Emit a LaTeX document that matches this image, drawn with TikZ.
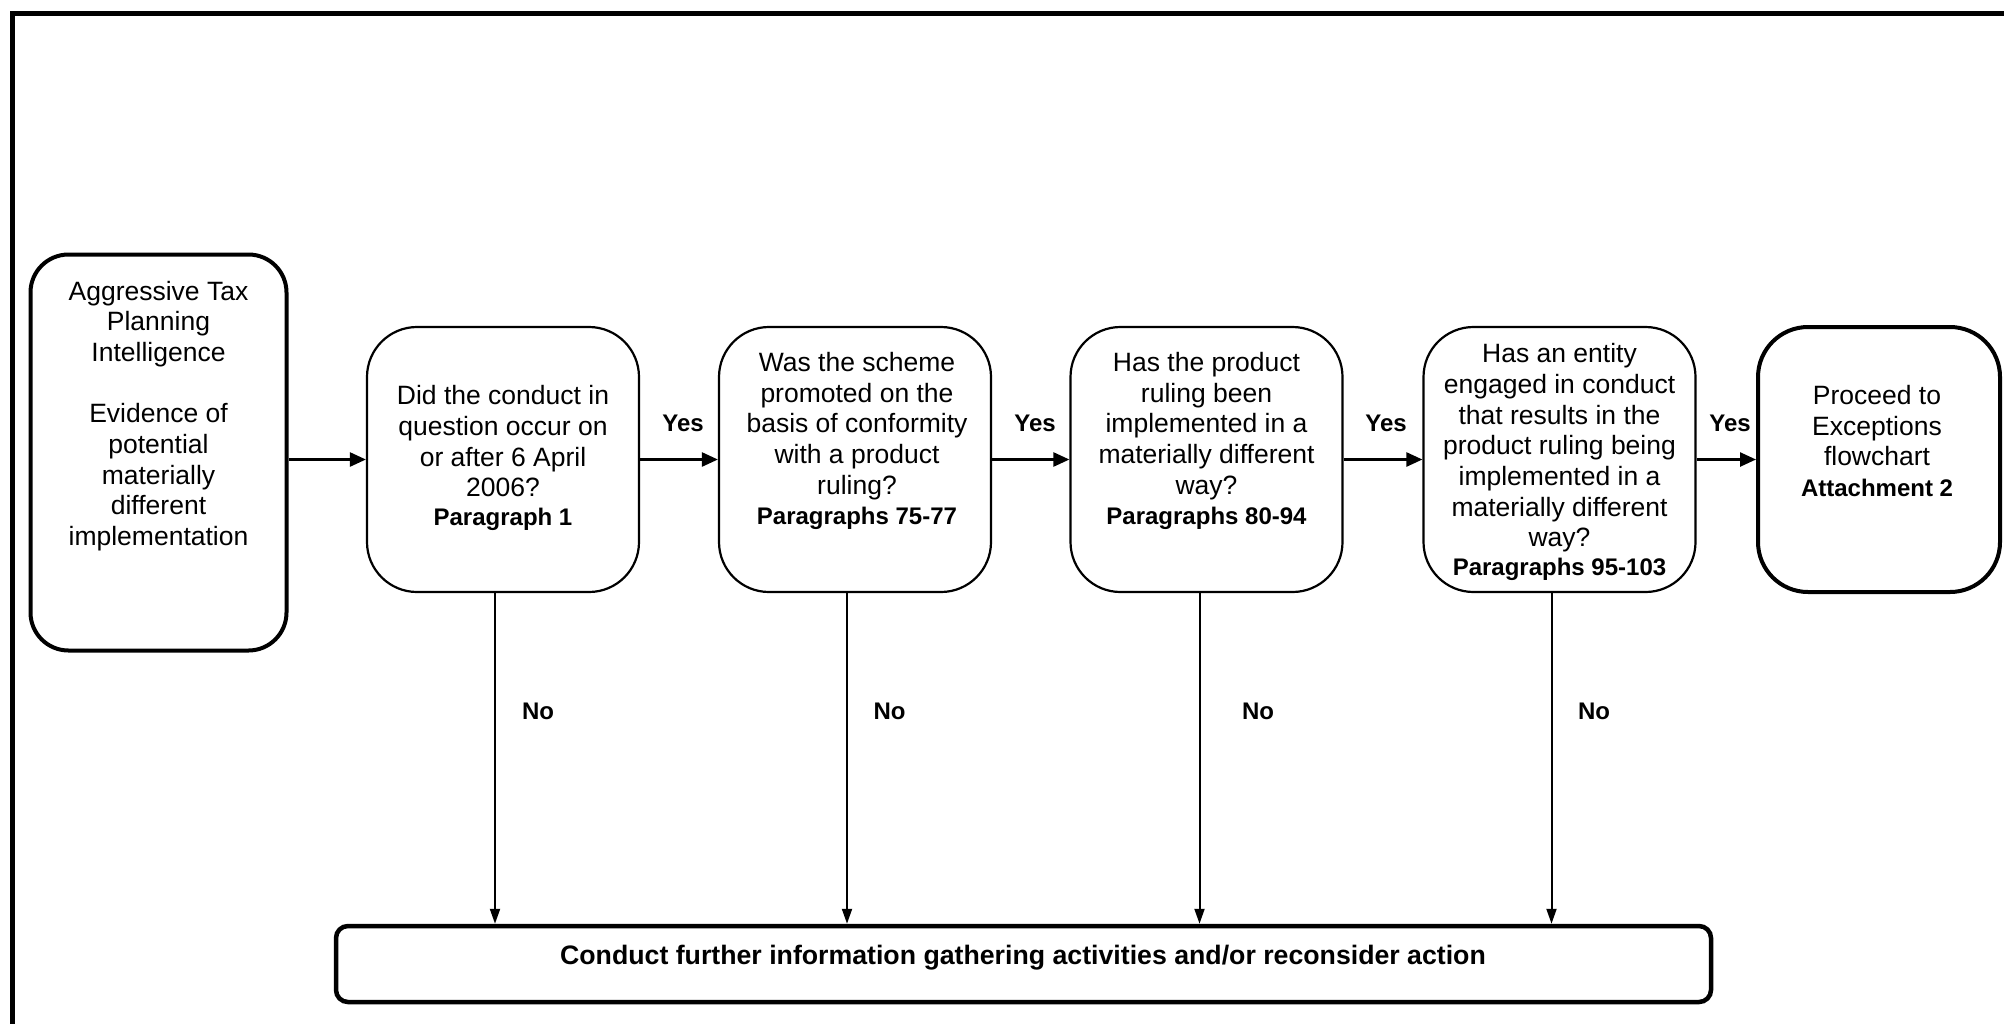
\documentclass[tikz,border=0pt]{standalone}
\usepackage{fontspec}
\setmainfont{Liberation Sans}
\usetikzlibrary{arrows.meta}
\begin{document}
\begin{tikzpicture}[x=1pt,y=-1pt,
  qbox/.style={draw, line width=2.2pt, rounded corners=50pt, minimum width=272pt, minimum height=265pt, inner sep=0pt},
  startbox/.style={draw, line width=4pt, rounded corners=38pt, minimum width=256pt, minimum height=396pt, inner sep=0pt},
  endbox/.style={draw, line width=4pt, rounded corners=50pt, minimum width=242pt, minimum height=265pt, inner sep=0pt},
  botbox/.style={draw, line width=4.5pt, rounded corners=12pt, minimum width=1375pt, minimum height=76pt, inner sep=0pt},
  txt/.style={align=center, inner sep=0pt, font=\fontsize{26.5}{30.7}\selectfont},
  lbl/.style={inner sep=0pt, font=\bfseries\fontsize{24}{28}\selectfont},
  harrow/.style={line width=2.5pt, -{Triangle[length=16pt,width=14pt]}},
  varrow/.style={line width=2pt, -{Triangle[length=15pt,width=10pt]}}
]
\useasboundingbox (0,0) rectangle (2004,1023);
% outer frame (only top and left visible)
\draw[line width=5pt] (2100,13) -- (12,13) -- (12,1100);

% boxes
\node[startbox] (s) at (158.5,452.5) {};
\node[qbox] (b1) at (503,459.5) {};
\node[qbox] (b2) at (855,459.5) {};
\node[qbox] (b3) at (1206.5,459.5) {};
\node[qbox] (b4) at (1559.5,459.5) {};
\node[endbox] (e) at (1879,459.5) {};
\node[botbox] (bot) at (1023.5,964) {};

% texts
\node[txt] (ts) at (158.5,416) {Aggressive Tax\\Planning\\Intelligence\\[30.7pt]Evidence of\\potential\\materially\\different\\implementation};
\node[txt] (t1) at (503,458) {Did the conduct in\\question occur on\\or after 6 April\\2006?\\[-2pt]{\bfseries\fontsize{24}{28}\selectfont Paragraph 1}};
\node[txt] (t2) at (857,441) {Was the scheme\\promoted on the\\basis of conformity\\with a product\\ruling?\\{\bfseries\fontsize{24}{28}\selectfont Paragraphs 75-77}};
\node[txt] (t3) at (1206.5,441) {Has the product\\ruling been\\implemented in a\\materially different\\way?\\{\bfseries\fontsize{24}{28}\selectfont Paragraphs 80-94}};
\node[txt] (t4) at (1559.5,462) {Has an entity\\engaged in conduct\\that results in the\\product ruling being\\implemented in a\\materially different\\way?\\[-2pt]{\bfseries\fontsize{24}{28}\selectfont Paragraphs 95-103}};
\node[txt] (te) at (1877,441) {Proceed to\\Exceptions\\flowchart\\{\bfseries\fontsize{24}{28}\selectfont Attachment 2}};
\node[txt, font=\bfseries\fontsize{26.7}{30}\selectfont] (tb) at (1023,958) {Conduct further information gathering activities and/or reconsider action};

% horizontal connectors
\draw[harrow] (b1.west -| s.east) -- (b1.west);
\draw[harrow] (b1.east) -- (b2.west);
\draw[harrow] (b2.east) -- (b3.west);
\draw[harrow] (b3.east) -- (b4.west);
\draw[harrow] (b4.east) -- (e.west);

% vertical connectors
\draw[varrow] ([xshift=-8pt]b1.south) -- ([xshift=-8pt]b1.south |- bot.north);
\draw[varrow] ([xshift=-8pt]b2.south) -- ([xshift=-8pt]b2.south |- bot.north);
\draw[varrow] ([xshift=-7pt]b3.south) -- ([xshift=-7pt]b3.south |- bot.north);
\draw[varrow] ([xshift=-8pt]b4.south) -- ([xshift=-8pt]b4.south |- bot.north);

% labels
\node[lbl] (y1) at (683,423) {Yes};
\node[lbl] (y2) at (1035,423) {Yes};
\node[lbl] (y3) at (1386,423) {Yes};
\node[lbl] (y4) at (1730,423) {Yes};
\node[lbl] (n1) at (538,711) {No};
\node[lbl] (n2) at (889.5,711) {No};
\node[lbl] (n3) at (1258,711) {No};
\node[lbl] (n4) at (1594,711) {No};
\end{tikzpicture}
\end{document}
